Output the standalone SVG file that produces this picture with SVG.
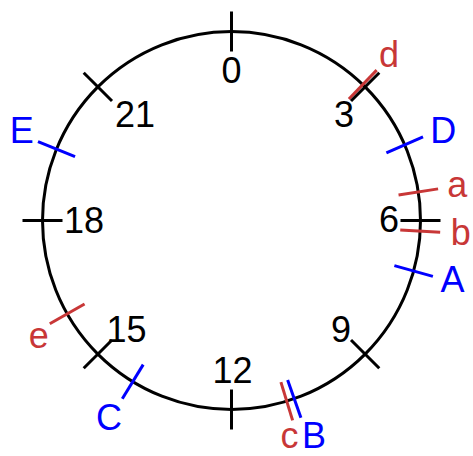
<svg xmlns="http://www.w3.org/2000/svg" width="473" height="456" viewBox="0 0 473 456">
<style>
.ring{fill:none;stroke:#000;stroke-width:3}
.tk{stroke-width:3;fill:none}
.k{stroke:#000}
.r{stroke:#c83737}
.b{stroke:#0000ff}
text{font-family:"Liberation Sans",Arial,sans-serif;font-size:36px;text-anchor:middle}
.tk-k{fill:#000}
.tr{fill:#c83737}
.tb{fill:#0000ff}
</style>
<rect width="473" height="456" fill="#fff"/>
<g id="ring">
<circle class="ring" cx="231.5" cy="220.5" r="189"/>
</g>
<g id="connectors" transform="translate(231.5,220.5)">
<line class="tk r" x1="0" y1="-209" x2="0" y2="-169" transform="rotate(44)"/>
<line class="tk r" x1="0" y1="-209" x2="0" y2="-169" transform="rotate(81.3)"/>
<line class="tk r" x1="0" y1="-209" x2="0" y2="-169" transform="rotate(93.2)"/>
<line class="tk r" x1="0" y1="-209" x2="0" y2="-169" transform="rotate(163)"/>
<line class="tk r" x1="0" y1="-209" x2="0" y2="-169" transform="rotate(240.4)"/>
<line class="tk b" x1="0" y1="-209" x2="0" y2="-169" transform="rotate(66.4)"/>
<line class="tk b" x1="0" y1="-209" x2="0" y2="-169" transform="rotate(105.5)"/>
<line class="tk b" x1="0" y1="-209" x2="0" y2="-169" transform="rotate(160.6)"/>
<line class="tk b" x1="0" y1="-209" x2="0" y2="-169" transform="rotate(211.5)"/>
<line class="tk b" x1="0" y1="-209" x2="0" y2="-169" transform="rotate(292.2)"/>
<line class="tk k" x1="0" y1="-209" x2="0" y2="-169" transform="rotate(0)"/>
<line class="tk k" x1="0" y1="-209" x2="0" y2="-169" transform="rotate(45)"/>
<line class="tk k" x1="0" y1="-209" x2="0" y2="-169" transform="rotate(90)"/>
<line class="tk k" x1="0" y1="-209" x2="0" y2="-169" transform="rotate(135)"/>
<line class="tk k" x1="0" y1="-209" x2="0" y2="-169" transform="rotate(180)"/>
<line class="tk k" x1="0" y1="-209" x2="0" y2="-169" transform="rotate(225)"/>
<line class="tk k" x1="0" y1="-209" x2="0" y2="-169" transform="rotate(270)"/>
<line class="tk k" x1="0" y1="-209" x2="0" y2="-169" transform="rotate(315)"/>
</g>
<g id="label-0"><text class="tk-k" x="231.5" y="82.5">0</text></g>
<g id="label-3"><text class="tk-k" x="344" y="127">3</text></g>
<g id="label-6"><text class="tk-k" x="389" y="231.5">6</text></g>
<g id="label-9"><text class="tk-k" x="341" y="342">9</text></g>
<g id="label-12"><text class="tk-k" x="232.5" y="383.3">12</text></g>
<g id="label-15"><text class="tk-k" x="126.5" y="342">15</text></g>
<g id="label-18"><text class="tk-k" x="84" y="233">18</text></g>
<g id="label-21"><text class="tk-k" x="135" y="127">21</text></g>
<g id="label-d"><text class="tr" x="389" y="66.5">d</text></g>
<g id="label-D"><text class="tb" x="443.3" y="143.3">D</text></g>
<g id="label-a"><text class="tr" x="457.3" y="196.5">a</text></g>
<g id="label-b"><text class="tr" x="460.8" y="245">b</text></g>
<g id="label-A"><text class="tb" x="452.5" y="291.7">A</text></g>
<g id="label-B"><text class="tb" x="314" y="448">B</text></g>
<g id="label-c"><text class="tr" x="289.5" y="448">c</text></g>
<g id="label-C"><text class="tb" x="109" y="430">C</text></g>
<g id="label-e"><text class="tr" x="38.7" y="348">e</text></g>
<g id="label-E"><text class="tb" x="21.7" y="142.7">E</text></g>
</svg>
